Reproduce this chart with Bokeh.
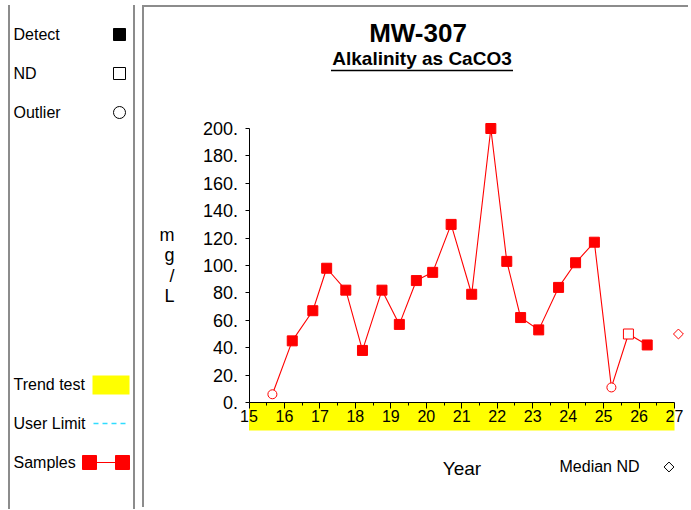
import math
from bokeh.plotting import figure
from bokeh.models import Range1d, LinearAxis, FixedTicker, PrintfTickFormatter
from bokeh.layouts import row
from bokeh.embed import file_html
from bokeh.resources import INLINE
from bokeh.core.properties import value

# ---------------- data ----------------
station = "MW-307"
analyte = "Alkalinity as CaCO3"
units_label = "m\ng\n/\nL"
x_title = "Year"

sample_years = [15.66, 16.22, 16.80, 17.19, 17.73, 18.20, 18.75, 19.24, 19.72, 20.18, 20.70,
                21.28, 21.82, 22.27, 22.66, 23.17, 23.73, 24.21, 24.74, 25.22, 25.70, 26.23]
sample_values = [6, 45, 67, 98, 82, 38, 82, 57, 89, 95, 130,
                 79, 200, 103, 62, 53, 84, 102, 117, 11, 50, 42]
sample_kind = ["outlier", "detect", "detect", "detect", "detect", "detect", "detect", "detect",
               "detect", "detect", "detect", "detect", "detect", "detect", "detect", "detect",
               "detect", "detect", "detect", "outlier", "nd", "detect"]
median_nd_year = [27.11]
median_nd_value = [50]

x_ticks = [15, 16, 17, 18, 19, 20, 21, 22, 23, 24, 25, 26, 27]
x_minor_ticks = [15.5, 16.5, 17.5, 18.5, 19.5, 20.5, 21.5, 22.5, 23.5, 24.5, 25.5, 26.5]
y_ticks = [0, 20, 40, 60, 80, 100, 120, 140, 160, 180, 200]
trend_start = 15
trend_end = 27

legend_labels = ["Detect", "ND", "Outlier", "Trend test", "User Limit", "Samples"]

FONT = value("Liberation Sans")
RED = "#ff0000"
BORDER = "2px solid #8c8c8c"
DIAMOND = math.pi / 4

# ---------------- page-pixel helpers (layout only) ----------------
PX0, PXU = 248.5, 35.46      # page x of year 15, pixels per year
PY0, PYU = 402.0, 1.37       # page y of value 0, pixels per unit

def px2x(px):
    return trend_start + (px - PX0) / PXU

def px2y(py):
    return (PY0 - py) / PYU

# ---------------- left legend panel ----------------
lp = figure(width=127, height=504, output_backend="svg", toolbar_location=None,
            x_range=Range1d(10, 137), y_range=Range1d(509, 5),
            x_axis_location=None, y_axis_location=None, title=None,
            min_border_left=0, min_border_right=0, min_border_top=0, min_border_bottom=0,
            outline_line_color=None, background_fill_color="white", border_fill_color="white",
            styles={"border-left": BORDER, "border-right": BORDER})
lp.grid.visible = False

legend_y = [34, 73, 112, 384, 423, 462]
lp.text(x=[13] * 6, y=legend_y, text=legend_labels, text_font=FONT, text_font_size="16px",
        text_align="left", text_baseline="middle", text_color="black")
lp.scatter(x=[119], y=[34], marker="square", size=12, fill_color="black", line_color="black")
lp.scatter(x=[119], y=[73], marker="square", size=12, fill_color=None, line_color="black", line_width=1)
lp.scatter(x=[119], y=[112], marker="circle", size=12, fill_color=None, line_color="black", line_width=1)
lp.quad(left=[92], right=[129], top=[375], bottom=[394], fill_color="yellow", line_color=None)
lp.line(x=[93, 128], y=[423, 423], line_color="#30dcff", line_width=1.3, line_dash="5 4")
lp.line(x=[89, 122], y=[462, 462], line_color=RED, line_width=1.2)
lp.scatter(x=[89, 122], y=[462, 462], marker="square", size=14, fill_color=RED, line_color=RED)

# ---------------- main chart panel ----------------
p = figure(width=546, height=502, output_backend="svg", toolbar_location=None,
           x_range=Range1d(px2x(144), px2x(690)), y_range=Range1d(px2y(509), px2y(7)),
           x_axis_location=None, y_axis_location=None, title=None,
           min_border_left=0, min_border_right=0, min_border_top=0, min_border_bottom=0,
           outline_line_color=None, background_fill_color="white", border_fill_color="white",
           styles={"border-left": BORDER, "border-top": BORDER})
p.grid.visible = False

# trend test band
p.quad(left=[trend_start], right=[trend_end], top=[0], bottom=[px2y(430)],
       fill_color="yellow", line_color=None)

# axes
xaxis = LinearAxis(fixed_location=0, bounds=(trend_start, trend_end),
                   ticker=FixedTicker(ticks=x_ticks, minor_ticks=x_minor_ticks))
xaxis.major_tick_in = 0
xaxis.major_tick_out = 6
xaxis.minor_tick_in = 0
xaxis.minor_tick_out = 3
xaxis.major_label_standoff = 1
xaxis.major_label_text_font = "Liberation Sans"
xaxis.major_label_text_font_size = "16px"
xaxis.major_label_text_color = "black"
xaxis.axis_label = x_title
xaxis.axis_label_text_font = "Liberation Sans"
xaxis.axis_label_text_font_size = "19px"
xaxis.axis_label_text_font_style = "normal"
xaxis.axis_label_text_color = "black"
xaxis.axis_label_standoff = 33
xaxis.axis_line_color = "black"
p.add_layout(xaxis, "below")

yaxis = LinearAxis(fixed_location=trend_start, bounds=(0, 200),
                   ticker=FixedTicker(ticks=y_ticks, minor_ticks=[]),
                   formatter=PrintfTickFormatter(format="%d."))
yaxis.major_tick_in = 0
yaxis.major_tick_out = 4
yaxis.minor_tick_in = 0
yaxis.minor_tick_out = 0
yaxis.major_label_standoff = 7
yaxis.major_label_text_font = "Liberation Sans"
yaxis.major_label_text_font_size = "18px"
yaxis.major_label_text_color = "black"
yaxis.axis_label = units_label
yaxis.axis_label_orientation = "horizontal"
yaxis.axis_label_text_font = "Liberation Sans"
yaxis.axis_label_text_font_size = "18px"
yaxis.axis_label_text_font_style = "normal"
yaxis.axis_label_text_color = "black"
yaxis.axis_label_text_line_height = 1.02
yaxis.axis_label_standoff = 26
yaxis.axis_line_color = "black"
p.add_layout(yaxis, "left")

# samples
p.line(sample_years, sample_values, line_color=RED, line_width=1.1)
det_x = [x for x, k in zip(sample_years, sample_kind) if k == "detect"]
det_y = [y for y, k in zip(sample_values, sample_kind) if k == "detect"]
nd_x = [x for x, k in zip(sample_years, sample_kind) if k == "nd"]
nd_y = [y for y, k in zip(sample_values, sample_kind) if k == "nd"]
out_x = [x for x, k in zip(sample_years, sample_kind) if k == "outlier"]
out_y = [y for y, k in zip(sample_values, sample_kind) if k == "outlier"]
p.scatter(det_x, det_y, marker="square", size=10, fill_color=RED, line_color=RED)
p.scatter(nd_x, nd_y, marker="square", size=10, fill_color="white", line_color=RED, line_width=1)
p.scatter(out_x, out_y, marker="circle", size=9, fill_color="white", line_color=RED, line_width=1)
p.scatter(median_nd_year, median_nd_value, marker="square", angle=DIAMOND, size=7,
          fill_color="white", line_color=RED, line_width=1)

# titles
p.text(x=[px2x(417.5)], y=[px2y(32.5)], text=[station], text_font=FONT, text_font_style="bold",
       text_font_size="26px", text_align="center", text_baseline="middle", text_color="black")
p.text(x=[px2x(421.5)], y=[px2y(58)], text=[analyte], text_font=FONT, text_font_style="bold",
       text_font_size="19px", text_align="center", text_baseline="middle", text_color="black")
p.segment(x0=[px2x(421.5 - 91)], y0=[px2y(70)], x1=[px2x(421.5 + 91)], y1=[px2y(70)],
          line_color="black", line_width=1.5)

# median ND key
p.text(x=[px2x(559)], y=[px2y(466)], text=["Median ND"], text_font=FONT, text_font_size="16px",
       text_align="left", text_baseline="middle", text_color="black")
p.scatter(x=[px2x(668.5)], y=[px2y(466.5)], marker="square", angle=DIAMOND, size=7,
          fill_color=None, line_color="black", line_width=1)

layout = row(lp, p, spacing=7, margin=(5, 0, 0, 8))
open("out.html", "w").write(file_html(layout, INLINE))
